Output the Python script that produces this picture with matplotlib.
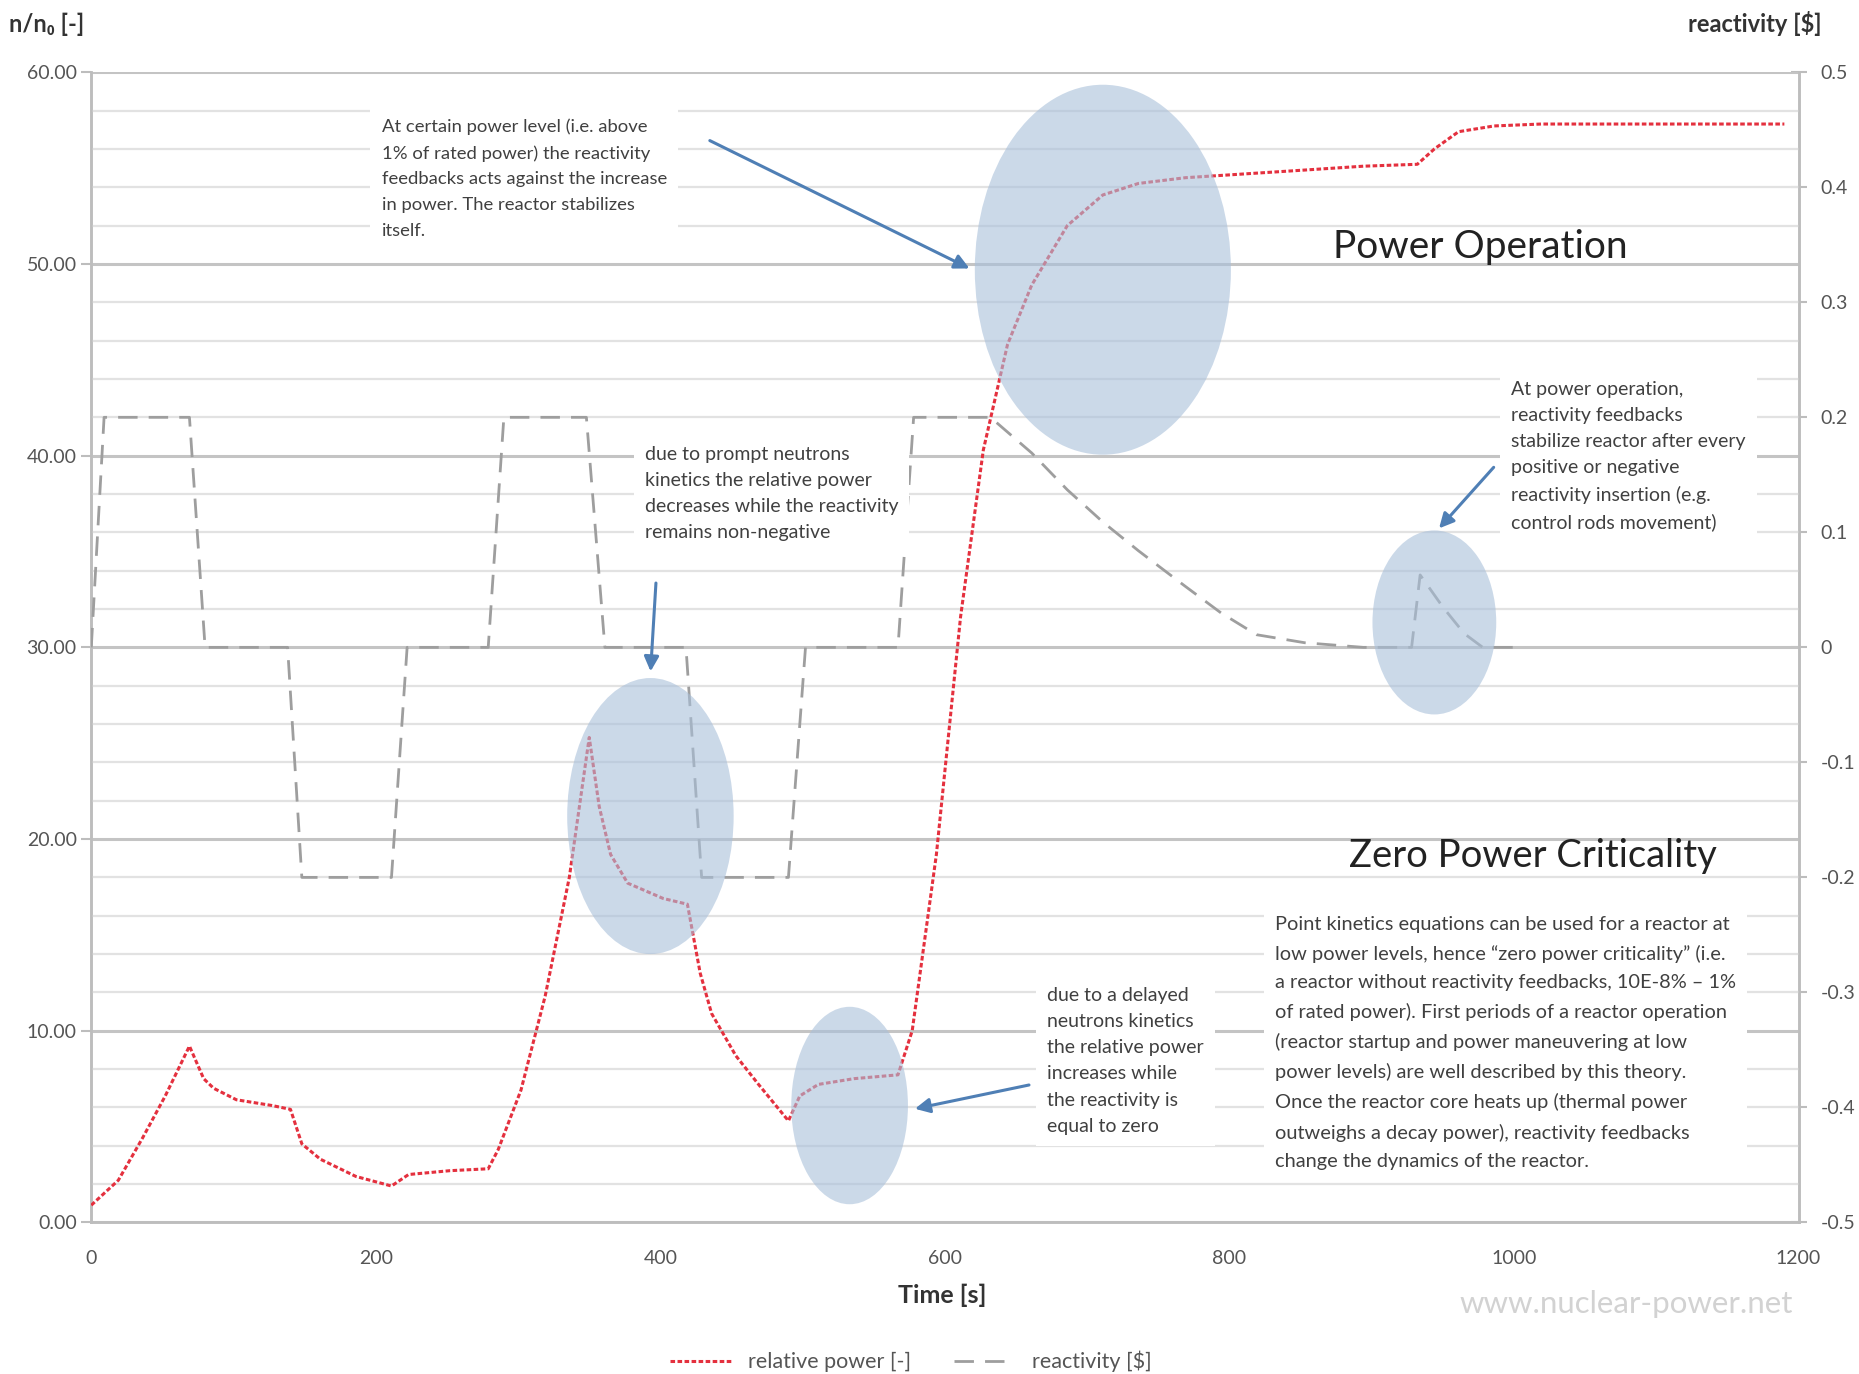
import matplotlib
matplotlib.use("Agg")
from matplotlib import pyplot as plt
from matplotlib.patches import Ellipse
from matplotlib.lines import Line2D
from matplotlib.ticker import MultipleLocator

plt.rcParams['font.family'] = ['Lato', 'DejaVu Sans']

# relative power n/n0 [-] (left axis)
power_t = [0, 19, 36, 52, 69, 79, 86, 102, 127, 140, 148, 161, 186, 211, 223, 252, 279,
           286, 302, 319, 336, 350, 357, 365, 377, 402, 419, 428, 436, 453, 469, 490,
           498, 511, 536, 567, 577, 594, 611, 627, 644, 661, 686, 711, 736, 769, 811,
           853, 894, 932, 944, 961, 986, 1019, 1190]
power = [0.9, 2.2, 4.4, 6.6, 9.2, 7.5, 7.0, 6.4, 6.1, 5.9, 4.1, 3.3, 2.4, 1.9, 2.5, 2.7, 2.8,
         3.8, 6.9, 11.8, 18.0, 25.3, 21.7, 19.2, 17.7, 16.9, 16.6, 13.0, 10.9, 8.7, 7.2, 5.3,
         6.6, 7.2, 7.5, 7.7, 10.0, 19.2, 31.6, 40.3, 45.8, 48.9, 52.0, 53.6, 54.2, 54.5, 54.7,
         54.9, 55.1, 55.2, 56.0, 56.9, 57.2, 57.3, 57.3]

# reactivity [$] (right axis)
rho_t = [0, 9, 69, 80, 138, 148, 211, 222, 279, 290, 348, 361, 418, 429, 490, 502, 567, 578,
         632, 661, 686, 711, 736, 769, 794, 819, 853, 894, 928, 934, 950, 965, 978, 1000]
rho = [0, 0.2, 0.2, 0, 0, -0.2, -0.2, 0, 0, 0.2, 0.2, 0, 0, -0.2, -0.2, 0, 0, 0.2,
       0.2, 0.169, 0.137, 0.109, 0.084, 0.053, 0.030, 0.011, 0.004, 0.0, 0.0, 0.063, 0.035, 0.012, 0.0, 0.0]

left_ticks = [0, 10, 20, 30, 40, 50, 60]
right_ticks = [-0.5, -0.4, -0.3, -0.2, -0.1, 0, 0.1, 0.2, 0.3, 0.4, 0.5]
right_labels = ['-0.5', '-0.4', '-0.3', '-0.2', '-0.1', '0', '0.1', '0.2', '0.3', '0.4', '0.5']
x_ticks = [0, 200, 400, 600, 800, 1000, 1200]

# highlight ellipses: (center t, center n, width s, height n)
ellipses = [(711, 49.7, 180, 19.3), (393, 21.2, 117, 14.4),
            (533, 6.1, 82, 10.3), (944, 31.3, 87, 9.6)]

# notes: t, n, text, fontsize, linespacing
notes = [
    (204, 57.6, "At certain power level (i.e. above\n1% of rated power) the reactivity\n"
                "feedbacks acts against the increase\nin power. The reactor stabilizes\nitself.", 13.3, 1.75),
    (389, 40.5, "due to prompt neutrons\nkinetics the relative power\n"
                "decreases while the reactivity\nremains non-negative", 14, 1.65),
    (672, 12.3, "due to a delayed\nneutrons kinetics\nthe relative power\n"
                "increases while\nthe reactivity is\nequal to zero", 14, 1.66),
    (998, 43.9, "At power operation,\nreactivity feedbacks\nstabilize reactor after every\n"
                "positive or negative\nreactivity insertion (e.g.\ncontrol rods movement)", 14, 1.65),
    (832, 16.0, "Point kinetics equations can be used for a reactor at\n"
                "low power levels, hence \u201czero power criticality\u201d (i.e.\n"
                "a reactor without reactivity feedbacks, 10E-8% \u2013 1%\n"
                "of rated power). First periods of a reactor operation\n"
                "(reactor startup and power maneuvering at low\n"
                "power levels) are well described by this theory.\n"
                "Once the reactor core heats up (thermal power\n"
                "outweighs a decay power), reactivity feedbacks\n"
                "change the dynamics of the reactor.", 14.4, 1.8),
]

arrows = [((433, 56.5), (619, 49.7)), ((397, 33.5), (393, 28.6)),
          ((661, 7.2), (577, 5.9)), ((987, 39.5), (946, 36.1))]

fig = plt.figure(figsize=(18.59, 13.74), dpi=100)
ax = fig.add_axes([0.0491, 0.1103, 0.9184, 0.8371])
ax2 = ax.twinx()

ax.set_xlim(0, 1200)
ax.set_ylim(0, 60)
ax2.set_ylim(-0.5, 0.5)

ax.yaxis.set_major_locator(MultipleLocator(10))
ax.yaxis.set_minor_locator(MultipleLocator(2))
ax.grid(True, which='major', axis='y', color='#c4c4c4', lw=2.2, zorder=0)
ax.grid(True, which='minor', axis='y', color='#e2e2e2', lw=1.6, zorder=0)
ax.set_yticks(left_ticks)
ax.set_yticklabels(["%.2f" % v for v in left_ticks])
ax.set_xticks(x_ticks)
ax2.set_yticks(right_ticks)
ax2.set_yticklabels(right_labels)

for a in (ax, ax2):
    for s in a.spines.values():
        s.set_color('#bdbdbd')
        s.set_linewidth(1.8)
    a.spines['top'].set_visible(False)
    a.tick_params(colors='#bdbdbd', labelcolor='#555555', labelsize=14, length=7, width=1.5)
ax.tick_params(axis='y', which='minor', length=0)
ax.tick_params(axis='x', length=0, pad=20)
ax2.tick_params(axis='y', direction='inout', length=12, pad=10)
ax.set_zorder(ax2.get_zorder() + 1)
ax.patch.set_visible(False)

# reactivity drawn on the front axes but through the right-axis scale
ax.plot(rho_t, rho, color='#9e9e9e', lw=2, ls=(0, (7, 4)), zorder=3, transform=ax2.transData)
ax.plot(power_t, power, color='#e4303e', lw=2.2, ls=(0, (1.5, 0.8)), zorder=4)

for cx, cy, w, h in ellipses:
    ax.add_patch(Ellipse((cx, cy), w, h, facecolor='#a9c0da', edgecolor='none', alpha=0.6, zorder=5))

for t, v, txt, fs, lsp in notes:
    ax.text(t, v, txt, fontsize=fs, color='#404040', va='top', ha='left', linespacing=lsp,
            zorder=6, bbox=dict(facecolor='white', edgecolor='none', pad=8))

for (x0, y0), (x1, y1) in arrows:
    ax.annotate("", xy=(x1, y1), xytext=(x0, y0), zorder=7,
                arrowprops=dict(arrowstyle='-|>', color='#4f7fb5', lw=2.2, mutation_scale=22))

ax.text(976, 50.9, "Power Operation", fontsize=28, color='#222222', ha='center', va='center', zorder=6)
ax.text(1013, 19.1, "Zero Power Criticality", fontsize=27.5, color='#222222', ha='center', va='center', zorder=6)

fig.text(0.005, 0.982, "n/n\u2080 [-]", fontsize=17, fontweight='bold', color='#333333', ha='left', va='center')
fig.text(0.980, 0.983, "reactivity [$]", fontsize=17, fontweight='bold', color='#333333', ha='right', va='center')
fig.text(0.507, 0.057, "Time [s]", fontsize=18, fontweight='bold', color='#333333', ha='center', va='center')
fig.text(0.875, 0.051, "www.nuclear-power.net", fontsize=22.5, color='#d2d2d2', ha='center', va='center')

handles = [Line2D([], [], color='#e4303e', lw=2.2, ls=(0, (1.5, 0.8))),
           Line2D([], [], color='#9e9e9e', lw=2, ls=(0, (7, 4)))]
fig.legend(handles, ["relative power [-]", "reactivity [$]"], loc='center',
           bbox_to_anchor=(0.49, 0.009), ncol=2, frameon=False, fontsize=15.5,
           labelcolor='#555555', handlelength=2.8, columnspacing=2.0)

fig.savefig("out.png", dpi=100)
